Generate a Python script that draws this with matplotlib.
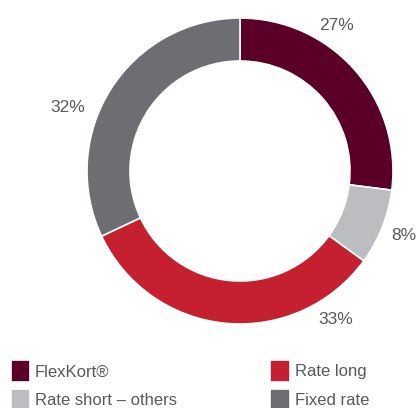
import matplotlib
matplotlib.use("Agg")
import matplotlib.pyplot as plt

# Share of portfolio by loan type
categories = ["FlexKort®", "Rate short – others", "Rate long", "Fixed rate"]
shares = [27, 8, 33, 32]
colours = ["#5a0028", "#bcbdc0", "#c4202f", "#6d6e71"]

# label placement (pixel coords, y down) for the percentage texts
label_pos = [(337, 26), (404, 235), (336, 320), (68, 107)]

W, H = 417, 408
plt.rcParams["font.family"] = ["Liberation Sans", "DejaVu Sans"]

fig = plt.figure(figsize=(W / 100, H / 100), dpi=100)
ax = fig.add_axes([0, 0, 1, 1])

cx, cy, r = 240, H - 171, 153
wedges, _ = ax.pie(shares, colors=colours, startangle=90, counterclock=False,
                   center=(cx, cy), radius=r, frame=True,
                   wedgeprops=dict(width=43, linewidth=1.2, edgecolor="white"))
ax.set_xlim(0, W)
ax.set_ylim(0, H)
ax.set_aspect("equal")
ax.axis("off")

for val, (x, y) in zip(shares, label_pos):
    ax.text(x, H - y, f"{val}%", ha="center", va="center",
            fontsize=12.5, color="#58595b")

fig.legend(wedges, categories, loc="upper left", bbox_to_anchor=(0.026, 0.117),
           ncol=2, frameon=False, fontsize=12, labelcolor="#58595b",
           handlelength=1.15, handleheight=1.6, handletextpad=0.3,
           columnspacing=5.6, labelspacing=0.45, borderpad=0, borderaxespad=0)

fig.savefig("out.png", dpi=100)
